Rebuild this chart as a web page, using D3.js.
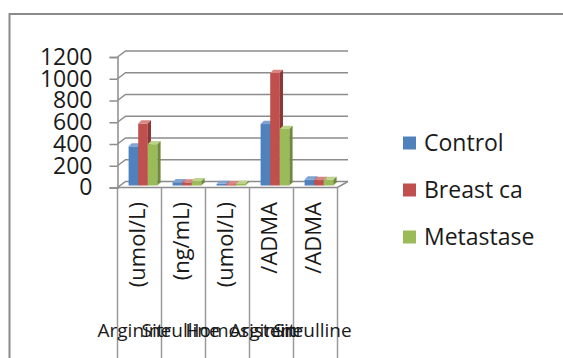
<!DOCTYPE html>
<html>
<head>
<meta charset="utf-8">
<script src="https://cdn.jsdelivr.net/npm/d3@7"></script>
<style>
  html, body { margin: 0; padding: 0; background: #fff; }
  svg { display: block; }
  text { font-family: "Open Sans", "DejaVu Sans", sans-serif; fill: #1a1a1a; }
</style>
</head>
<body>
<svg id="chart" width="563" height="358"></svg>
<script>
// Category labels: first line (horizontal) and second line (rotated unit)
const categoryNames = ["Arginine", "Sitrulline", "Homosistein", "Arginine", "Sitrulline"];
const categoryUnits = ["(umol/L)", "(ng/mL)", "(umol/L)", "/ADMA", "/ADMA"];
const categories = categoryNames.map((d, i) => d + " " + categoryUnits[i]);

// Series values per category
const seriesNames = ["Control", "Breast ca", "Metastase"];
const controlValues = [360, 30, 15, 565, 55];
const breastValues = [570, 28, 12, 1035, 50];
const metastaseValues = [380, 40, 14, 520, 52];
const seriesValues = [controlValues, breastValues, metastaseValues];

// Axis ticks
const yTicks = [0, 200, 400, 600, 800, 1000, 1200];

const colors = {
  front: ["#4F81BD", "#C0504D", "#9BBB59"],
  side:  ["#36598A", "#8C3836", "#71893F"],
  top:   ["#7FA3D3", "#D98583", "#BBD48A"]
};

const svg = d3.select("#chart");

// outer chart frame (top and left edges inside the window)
svg.append("path")
  .attr("d", "M9.5,358 L9.5,14 L563,14")
  .attr("fill", "none").attr("stroke", "#8a8a8a").attr("stroke-width", 2);

// 3D geometry: front plane and back wall offset
const depthX = 8, depthY = -6;
const frontLeft = 117.5, frontRight = 337.5;

const x = d3.scaleBand().domain(categories).range([frontLeft, frontRight]).paddingInner(0).paddingOuter(0);
const y = d3.scaleLinear().domain([0, 1200]).range([187.5, 57]);

const grid = svg.append("g").attr("stroke", "#8c8c8c").attr("stroke-width", 1.5).attr("fill", "none");

// back wall gridlines with diagonal connectors from the front axis
yTicks.forEach(t => {
  const yf = y(t);
  grid.append("path")
    .attr("d", `M${frontLeft},${yf} L${frontLeft + depthX},${yf + depthY} L${frontRight + depthX + 2.5},${yf + depthY}`);
});

// floor: front edge and right diagonal
grid.append("path")
  .attr("d", `M${frontLeft},${y(0)} L${frontRight},${y(0)} L${frontRight + depthX + 2.5},${y(0) + depthY}`);

// category separators below the floor
const bounds = categories.map(c => x(c)).concat([frontRight]);
bounds.forEach(bx => {
  grid.append("line")
    .attr("x1", bx).attr("x2", bx)
    .attr("y1", y(0)).attr("y2", 358)
    .attr("stroke", "#9a9a9a");
});

// front value axis
const yAxis = d3.axisLeft(y).tickValues(yTicks).tickSize(8).tickPadding(17).tickFormat(d3.format("d"));
const axisG = svg.append("g").attr("transform", `translate(${frontLeft},0)`).call(yAxis);
axisG.select(".domain").attr("stroke", "#8c8c8c").attr("stroke-width", 1.5);
axisG.selectAll(".tick line").attr("stroke", "#8c8c8c").attr("stroke-width", 1.5);
axisG.selectAll(".tick text")
  .attr("font-size", 23).attr("font-family", "Open Sans").attr("fill", "#1a1a1a");

// bars, positioned at mid depth
const barOffX = 3.5, barOffY = -2;
const barW = 9.6, sideW = 3.2, topH = 3.2;
const bars = svg.append("g");
categories.forEach((c, ci) => {
  const groupStart = x(c) + x.bandwidth() / 2 - (barW * 3) / 2 + barOffX;
  seriesValues.forEach((vals, si) => {
    const v = vals[ci];
    const x0 = groupStart + si * barW;
    const x1 = x0 + barW;
    const yb = y(0) + barOffY;
    const yt = y(v) + barOffY;
    // front face
    bars.append("rect")
      .attr("x", x0).attr("y", yt).attr("width", barW).attr("height", yb - yt)
      .attr("fill", colors.front[si]);
    // top face
    bars.append("path")
      .attr("d", `M${x0},${yt} L${x0 + sideW},${yt - topH} L${x1 + sideW},${yt - topH} L${x1},${yt} Z`)
      .attr("fill", colors.top[si]);
    // side face
    bars.append("path")
      .attr("d", `M${x1},${yt} L${x1 + sideW},${yt - topH} L${x1 + sideW},${yb - topH} L${x1},${yb} Z`)
      .attr("fill", colors.side[si]);
  });
});

// rotated unit labels
categories.forEach((c, ci) => {
  const cx = x(c) + x.bandwidth() / 2 - 2;
  svg.append("text")
    .attr("transform", `translate(${cx},202) rotate(-90)`)
    .attr("text-anchor", "end")
    .attr("dy", "0.35em")
    .attr("font-size", 22)
    .text(categoryUnits[ci]);
});

// horizontal first-line labels (overlapping, as laid out in the frame)
categories.forEach((c, ci) => {
  svg.append("text")
    .attr("x", x(c) + x.bandwidth() / 2 - 42)
    .attr("y", 337)
    .attr("font-size", 19)
    .text(categoryNames[ci]);
});

// legend
const legend = svg.append("g");
seriesNames.forEach((name, i) => {
  const cy = 143 + i * 47;
  legend.append("rect")
    .attr("x", 403).attr("y", cy - 6.5).attr("width", 13).attr("height", 13)
    .attr("fill", colors.front[i]);
  legend.append("text")
    .attr("x", 424).attr("y", cy).attr("dy", "0.35em")
    .attr("font-size", 23)
    .text(name);
});
</script>
</body>
</html>
